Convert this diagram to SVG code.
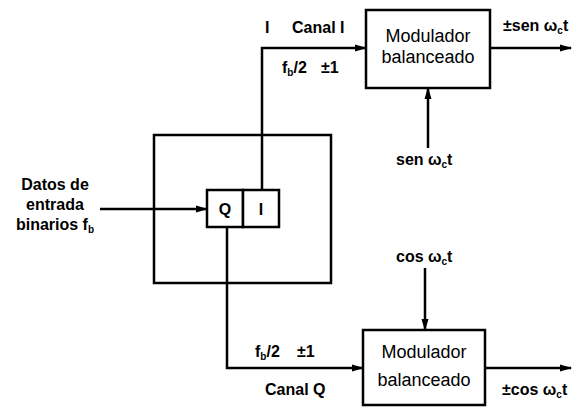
<svg xmlns="http://www.w3.org/2000/svg" width="576" height="408" viewBox="0 0 576 408">
<defs>
<marker id="ah" markerWidth="12" markerHeight="8" refX="11" refY="4" orient="auto" markerUnits="userSpaceOnUse">
<path d="M0,0.5 L12,4 L0,7.5 Z" fill="#000"/>
</marker>
</defs>
<style>
.box{fill:#fff;stroke:#000;stroke-width:2.5}
.frame{fill:none;stroke:#000;stroke-width:2.5}
.ln{fill:none;stroke:#000;stroke-width:2.5}
.bt{font-family:"Liberation Sans",Arial,sans-serif;font-size:18px;fill:#000;text-anchor:middle}
.lb{font-family:"Liberation Sans",Arial,sans-serif;font-size:16px;font-weight:bold;fill:#000}
.sub{font-size:10px}
</style>
<rect width="576" height="408" fill="#fff"/>
<g id="connectors">
<path class="ln" d="M100,209 L207,209" marker-end="url(#ah)"/>
<path class="ln" d="M262,190 L262,48 L366,48" marker-end="url(#ah)"/>
<path class="ln" d="M227,227 L227,368 L363,368" marker-end="url(#ah)"/>
<path class="ln" d="M490,48 L571,48" marker-end="url(#ah)"/>
<path class="ln" d="M485,368 L571,368" marker-end="url(#ah)"/>
<path class="ln" d="M428,148 L428,88" marker-end="url(#ah)"/>
<path class="ln" d="M425,268 L425,330" marker-end="url(#ah)"/>
</g>
<g id="serial-parallel">
<rect class="frame" x="154" y="135" width="177" height="148"/>
</g>
<g id="cell-Q">
<rect class="box" x="207" y="190" width="36" height="37"/>
<text class="lb" x="225" y="215" text-anchor="middle">Q</text>
</g>
<g id="cell-I">
<rect class="box" x="243" y="190" width="36" height="37"/>
<text class="lb" x="261" y="215" text-anchor="middle">I</text>
</g>
<g id="mod-top">
<rect class="box" x="366" y="10" width="124" height="78"/>
<text class="bt" x="428" y="42">Modulador</text>
<text class="bt" x="428" y="63">balanceado</text>
</g>
<g id="mod-bottom">
<rect class="box" x="363" y="330" width="122" height="75"/>
<text class="bt" x="424" y="358">Modulador</text>
<text class="bt" x="424" y="386">balanceado</text>
</g>
<g id="labels">
<text class="lb" x="55" y="190" text-anchor="middle">Datos de</text>
<text class="lb" x="55" y="210" text-anchor="middle">entrada</text>
<text class="lb" x="55" y="230" text-anchor="middle">binarios f<tspan class="sub" dy="3">b</tspan></text>
<text class="lb" x="265" y="33">I</text>
<text class="lb" x="292" y="33">Canal I</text>
<text class="lb" x="282" y="73">f<tspan class="sub" dy="3">b</tspan><tspan dy="-3">/2</tspan></text>
<text class="lb" x="321" y="73">±1</text>
<text class="lb" x="503" y="31">±sen ω<tspan class="sub" dy="3">c</tspan><tspan dy="-3">t</tspan></text>
<text class="lb" x="396" y="165">sen ω<tspan class="sub" dy="3">c</tspan><tspan dy="-3">t</tspan></text>
<text class="lb" x="396" y="262">cos ω<tspan class="sub" dy="3">c</tspan><tspan dy="-3">t</tspan></text>
<text class="lb" x="255" y="357">f<tspan class="sub" dy="3">b</tspan><tspan dy="-3">/2</tspan></text>
<text class="lb" x="297" y="357">±1</text>
<text class="lb" x="265" y="395">Canal Q</text>
<text class="lb" x="502" y="395">±cos ω<tspan class="sub" dy="3">c</tspan><tspan dy="-3">t</tspan></text>
</g>
</svg>
